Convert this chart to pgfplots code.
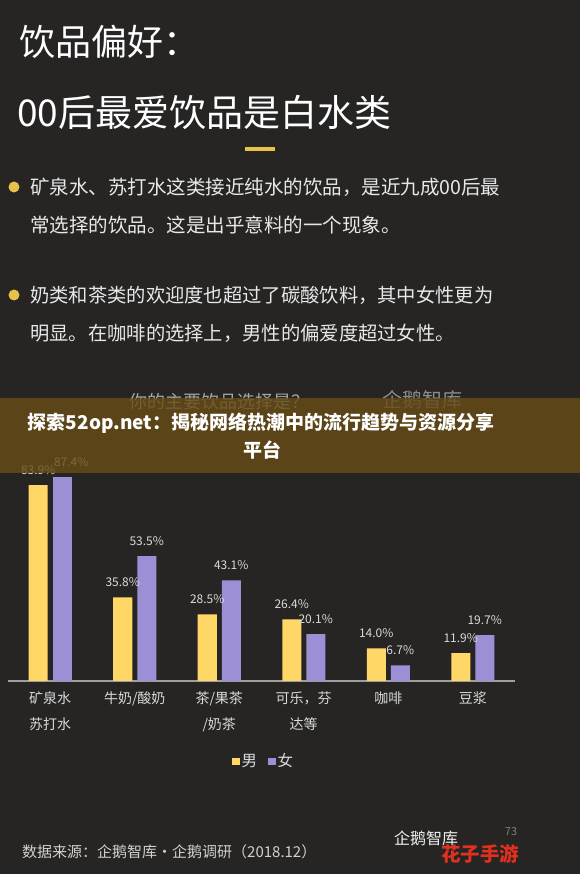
\documentclass[border=0pt]{standalone}
\usepackage{pgfplots}
\pgfplotsset{compat=1.18}
\usepackage{fontspec}
\setmainfont{Noto Sans CJK SC}
\newfontfamily\cjk{Noto Sans CJK SC}
\definecolor{bg}{HTML}{262524}
\definecolor{male}{HTML}{FFD766}
\definecolor{female}{HTML}{9D8FD6}
\definecolor{banner}{HTML}{674C16}
\definecolor{txt}{HTML}{E8E8E8}
\definecolor{lbl}{HTML}{DADADA}
\definecolor{accent}{HTML}{E8C14A}
\definecolor{wm}{HTML}{E0301E}
\begin{document}
\begin{tikzpicture}[x=1pt,y=1pt]
\useasboundingbox (0,0) rectangle (580,874);
\fill[bg] (0,0) rectangle (580,874);
% titles
\node[anchor=west, inner sep=0, text=white, font=\cjk\fontsize{36}{40}\selectfont] at (19,832) {饮品偏好：};
\node[anchor=west, inner sep=0, text=white, font=\cjk\fontsize{37}{40}\selectfont] at (17,762) {00后最爱饮品是白水类};
\fill[accent] (245,723) rectangle (275,727);
% bullets
\fill[accent] (14,687) circle (5.5);
\node[anchor=west, inner sep=0, text=txt, font=\cjk\fontsize{19.5}{22}\selectfont] at (30,687) {矿泉水、苏打水这类接近纯水的饮品，是近九成00后最};
\node[anchor=west, inner sep=0, text=txt, font=\cjk\fontsize{19.5}{22}\selectfont] at (30,649) {常选择的饮品。这是出乎意料的一个现象。};
\fill[accent] (14,579) circle (5.5);
\node[anchor=west, inner sep=0, text=txt, font=\cjk\fontsize{19.3}{22}\selectfont] at (30,579) {奶类和茶类的欢迎度也超过了碳酸饮料，其中女性更为};
\node[anchor=west, inner sep=0, text=txt, font=\cjk\fontsize{19.3}{22}\selectfont] at (30,541) {明显。在咖啡的选择上，男性的偏爱度超过女性。};
% chart title & top logo (partly under banner)
\node[inner sep=0, text=gray!70, font=\cjk\fontsize{18}{20}\selectfont] at (219,472) {你的主要饮品选择是？};
\node[inner sep=0, text=gray!90, font=\cjk\fontsize{20}{22}\selectfont] at (422,474) {企鹅智库};
\begin{axis}[
  at={(8pt,193pt)}, anchor=south west, scale only axis,
  width=507pt, height=233.4pt,
  xmin=-0.5, xmax=5.5, ymin=0, ymax=100,
  clip=false,
  axis x line=bottom, axis y line=none,
  axis line style={draw=gray!75, line width=1.2pt, -},
  xtick={0,1,2,3,4,5},
  xticklabels={{矿泉水\\苏打水},{牛奶/酸奶},{茶/果茶\\/奶茶},{可乐，芬\\达等},{咖啡},{豆浆}},
  major tick length=0pt,
  ytick=\empty,
  x tick label style={font=\cjk\fontsize{14}{26}\selectfont, text=lbl, align=center, anchor=north, yshift=-7pt},
  /pgf/number format/assume math mode=true,
  nodes near coords={\pgfmathprintnumber[fixed,fixed zerofill,precision=1,assume math mode=true]{\pgfplotspointmeta}\%},
  every node near coord/.append style={font=\cjk\fontsize{12}{13}\selectfont, text=lbl, anchor=center, yshift=15pt, inner sep=0pt},
  mybar/.style={ybar, bar width=19pt, draw=none, fill=#1,
    legend image code/.code={\fill[#1] (0pt,-3.5pt) rectangle (7.5pt,3.5pt);}},
  legend style={at={(0.504,-0.343)}, anchor=center, draw=none, fill=none, legend columns=2,
    font=\cjk\fontsize{15.5}{16}\selectfont, text=lbl,
    /tikz/every even column/.append style={column sep=9pt}},
]
\addplot[mybar=male, bar shift=-12pt, every node near coord/.append style={xshift=-12pt}] coordinates {(0,83.9) (1,35.8) (2,28.5) (3,26.4) (4,14.0) (5,11.9)};
\addlegendentry{男}
\addplot[mybar=female, bar shift=12pt, every node near coord/.append style={xshift=21pt}] coordinates {(0,87.4)};
\addlegendentry{女}
\addplot[mybar=female, bar shift=12pt, forget plot, every node near coord/.append style={xshift=12pt}] coordinates {(1,53.5) (2,43.1) (3,20.1) (4,6.7) (5,19.7)};
\end{axis}
% banner overlay
\fill[banner, opacity=0.8] (0,401) rectangle (580,476);
\node[inner sep=0, text=white, font=\cjk\bfseries\fontsize{19}{22}\selectfont] at (261,451) {探索52op.net：揭秘网络热潮中的流行趋势与资源分享};
\node[inner sep=0, text=white, font=\cjk\bfseries\fontsize{19}{22}\selectfont] at (262,424) {平台};
% source
\node[anchor=west, inner sep=0, text=lbl!90!gray, font=\cjk\fontsize{15}{16}\selectfont] at (22,22) {数据来源：企鹅智库·企鹅调研（2018.12）};
% bottom-right logo and watermark
\node[inner sep=0, text=white!90!gray, font=\cjk\fontsize{16}{18}\selectfont] at (426,36) {企鹅智库};
\node[inner sep=0, text=gray, font=\cjk\fontsize{11}{12}\selectfont] at (511,42) {73};
\node[inner sep=0, text=wm, font=\cjk\bfseries\fontsize{19.5}{22}\selectfont] at (480,20) {花子手游};
\end{tikzpicture}
\end{document}
